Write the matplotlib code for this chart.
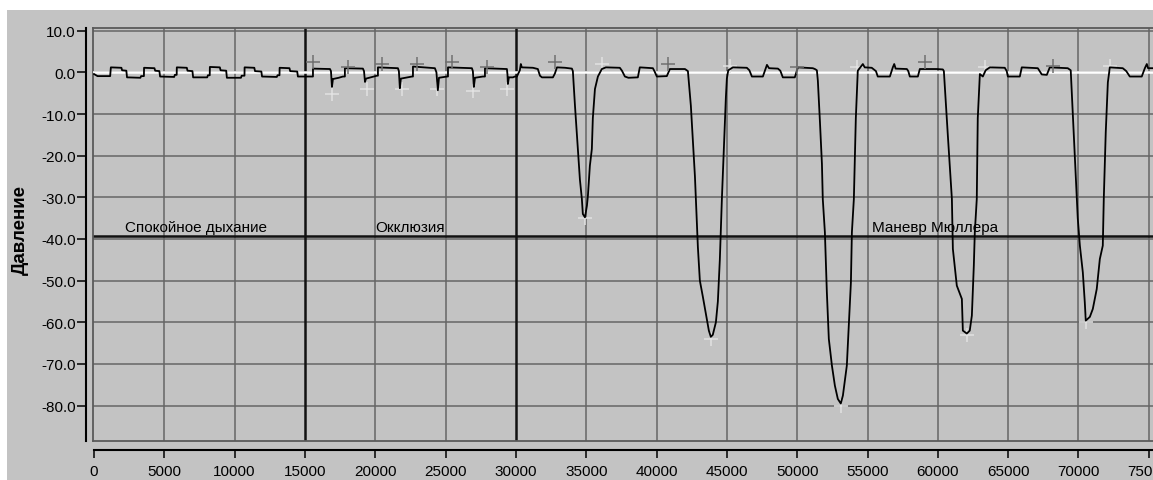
import numpy as np
import matplotlib
matplotlib.use("Agg")
import matplotlib.pyplot as plt
from matplotlib.patches import Rectangle

plt.rcParams['font.family'] = ['Liberation Sans', 'DejaVu Sans']
plt.rcParams['axes.unicode_minus'] = False

# ---------------- data ----------------
quiet_t = [0, 250, 1150, 1200, 1950, 2000, 2300, 2350, 3300, 3350, 3550, 3560, 4300, 4350,
           4650, 4700, 5700, 5750, 5880, 5890, 6600, 6650, 7000, 7050, 8050, 8100, 8230,
           8240, 8950, 9000, 9400, 9450, 10450, 10500, 10700, 10710, 11400, 11450, 11900,
           11950, 13000, 13050, 13190, 13200, 13900, 13950, 14450, 14500, 14950]
quiet_p = [-0.4, -0.9, -0.9, 1.2, 1.1, 0.5, 0.4, -1.2, -1.3, -0.9, -0.9, 1.1, 1.0, 0.4,
           0.3, -1.0, -1.1, -0.6, -0.6, 1.2, 1.1, 0.4, 0.3, -1.2, -1.2, -0.7, -0.7,
           1.3, 1.2, 0.5, 0.4, -1.3, -1.3, -0.8, -0.8, 1.2, 1.1, 0.3, 0.2,
           -1.0, -1.1, -0.7, -0.7, 1.1, 1.0, 0.3, 0.2, -1.0, -1.0]

occl_t = [15570, 15570, 16780, 16850, 16920, 16990, 17400, 17700, 17840, 17840, 19120,
          19200, 19270, 19340, 19800, 20120, 20190, 20190, 21610, 21680, 21750, 21820,
          22300, 22610, 22680, 22680, 23500, 24240, 24350, 24450, 24530, 25100, 25170,
          25170, 26870, 26940, 27010, 27090, 27650, 27800, 27800, 29360, 29400, 29430,
          29500, 29790, 29930]
occl_p = [-1.0, 0.9, 0.8, 0.3, -3.5, -1.6, -1.3, -1.0, -1.0, 1.0, 0.9,
          0.3, -2.3, -1.5, -1.1, -0.8, -0.8, 1.2, 1.0, 0.3, -3.8, -1.5,
          -1.2, -1.0, -1.0, 1.4, 1.2, 1.0, 0.0, -4.3, -1.3, -1.0, -1.0,
          1.2, 1.0, 0.3, -3.5, -1.3, -1.0, -1.0, 1.0, 0.8, -0.5, -2.8,
          -1.2, -1.2, -1.0]

mueller_t = [30070, 30280, 30350, 30420, 31210, 31560, 31710, 31850, 32630, 32770, 32920,
             33500, 33980, 34050, 34200, 34340, 34410, 34550, 34690, 34760, 34910, 35050,
             35120, 35260, 35400, 35470, 35620, 35830, 36110, 36400, 37390, 37540, 37750,
             38000, 38670, 38810, 39740, 39850, 40020, 40730, 40950, 42020, 42230, 42440,
             42730, 42940, 43080, 43300, 43510, 43720, 43860, 44000, 44220, 44360, 44500,
             44650, 44790, 44930, 45000, 45100, 45430, 46420, 46600, 46780, 47560, 47850,
             48000, 48630, 48800, 48980, 49830, 50050, 51110, 51260, 51400, 51470, 51620,
             51760, 51820, 51970, 52110, 52250, 52470, 52680, 52890, 53100, 53250, 53530,
             53670, 53820, 53890, 54030, 54170, 54310, 54670, 54800, 55300, 55600, 55730,
             56590, 56800, 56900, 57000, 57800, 57900, 58010, 58580, 58720, 59930, 60360,
             60430, 60710, 61000, 61070, 61350, 61710, 61780, 62060, 62270, 62420, 62560,
             62630, 62770, 62840, 62990, 63200, 63400, 63700, 64760, 64900, 64980, 65830,
             65970, 67110, 67390, 67750, 67960, 69240, 69450, 69740, 69950, 70100, 70310,
             70450, 70520, 70810, 71020, 71300, 71520, 71730, 71800, 71940, 72090, 72230,
             73150, 73400, 73650, 74500, 74720, 74860, 74950, 75300]
mueller_p = [-1.0, 0.5, 2.0, 1.2, 1.1, 0.8, -0.8, -1.2, -1.2, -0.3, 1.2,
             1.1, 0.9, 0.3, -8.0, -15.0, -18.4, -25.7, -30.4, -34.0, -34.8, -32.0,
             -29.6, -22.4, -18.4, -11.0, -4.0, -1.0, 0.8, 1.2, 1.1, 0.4, -1.0,
             -1.3, -1.2, 1.2, 1.0, 0.3, -1.0, -0.9, 0.8, 0.8, 0.3, -8.0,
             -25.0, -42.0, -50.0, -54.0, -58.0, -62.0, -63.5, -63.0, -60.0, -55.0, -45.0,
             -30.0, -18.0, -6.0, -1.5, 0.5, 1.2, 1.1, 0.5, -1.0, -1.0, 1.8,
             1.0, 0.9, 0.4, -1.2, -1.2, 1.2, 1.0, 0.8, 0.5, -2.0, -12.0,
             -22.0, -30.4, -38.4, -52.8, -64.0, -70.4, -75.2, -78.4, -79.5, -77.6, -70.4,
             -60.8, -50.4, -38.4, -30.4, -11.0, 0.4, 2.0, 1.2, 1.1, 0.3, -1.0,
             -1.0, 1.2, 2.0, 0.9, 0.8, 0.3, -1.0, -1.0, 0.8, 0.8, 0.7,
             0.3, -15.0, -30.4, -42.4, -51.2, -54.4, -62.0, -62.7, -62.0, -58.4, -46.4,
             -38.4, -30.4, -11.0, -0.4, -1.0, 0.5, 1.2, 1.1, 0.3, -1.0, -1.0,
             1.2, 1.0, -0.5, -0.6, 1.2, 1.0, 0.5, -20.0, -35.0, -41.6, -48.0,
             -55.2, -59.6, -58.7, -56.8, -52.0, -44.8, -41.6, -30.4, -14.4, -2.4, 1.2,
             1.0, 0.3, -1.0, -1.0, 1.0, 2.0, 1.0, 1.0]

dark_mark_t = [15570, 18060, 20470, 22960, 25450, 27940, 32770, 40810, 49980, 59080, 68180]
dark_mark_p = [2.4, 1.2, 2.0, 2.0, 2.4, 1.2, 2.4, 2.0, 1.2, 2.4, 1.5]
light_mark_t = [16920, 19410, 21900, 24380, 26940, 29360, 36110, 45210, 54240, 63340, 72230,
                34910, 43860, 53100, 62060, 70520]
light_mark_p = [-5.2, -4.0, -4.0, -4.0, -4.4, -4.0, 2.0, 1.5, 1.2, 1.2, 1.5,
                -35.0, -64.0, -80.0, -63.0, -60.0]

x_ticks = [0, 5000, 10000, 15000, 20000, 25000, 30000, 35000, 40000, 45000, 50000,
           55000, 60000, 65000, 70000, 75000]
y_ticks = [10, 0, -10, -20, -30, -40, -50, -60, -70, -80]
y_tick_labels = ['10.0', '0.0', '-10.0', '-20.0', '-30.0', '-40.0', '-50.0', '-60.0',
                 '-70.0', '-80.0']
phase_bounds = [15000, 30000]
marker_level = -39.4
phase_labels = ['Спокойное дыхание', 'Окклюзия', 'Маневр Мюллера']
phase_label_t = [2200, 19980, 55310]
y_label = 'Давление'

# ---------------- figure ----------------
W, H = 1153, 481
fig = plt.figure(figsize=(W / 100, H / 100), dpi=100, facecolor='white')
BG = '#c3c3c3'
fig.patches.append(Rectangle((7 / W, 0), 1 - 7 / W, 1 - 11 / H, transform=fig.transFigure,
                             facecolor=BG, edgecolor='none', zorder=-10))

top_px, bot_px, left_px = 29, 442, 93
XLIM = (-70, 75300)
YLIM = (-88.5, 10.65)

ax = fig.add_axes([left_px / W, 1 - bot_px / H, (W - left_px) / W, (bot_px - top_px) / H])
ax.set_facecolor(BG)
ax.set_xlim(*XLIM)
ax.set_ylim(*YLIM)
ax.set_xticks([])
ax.set_yticks([])
for s in ['top', 'bottom', 'left']:
    ax.spines[s].set_color('#5a5a5a')
    ax.spines[s].set_linewidth(1.3)
ax.spines['right'].set_visible(False)

grid_c = '#666666'
for xv in x_ticks[1:]:
    if xv in phase_bounds:
        ax.axvline(xv, color='#111111', lw=1.8, zorder=2)
    else:
        ax.axvline(xv, color=grid_c, lw=1.1, zorder=1)
for yv in y_ticks:
    ax.axhline(yv, color=grid_c, lw=1.1, zorder=1)
ax.axhline(marker_level, color='#111111', lw=1.8, zorder=2)
ax.axhline(0, color='white', lw=1.8, zorder=3)

t_all = quiet_t + occl_t + mueller_t
p_all = quiet_p + occl_p + mueller_p
ax.plot(t_all, p_all, color='black', lw=1.3, zorder=5)

ax.plot(dark_mark_t, dark_mark_p, linestyle='none', marker='+', ms=10, mew=1.1,
        color='#707070', zorder=6)
ax.plot(light_mark_t, light_mark_p, linestyle='none', marker='+', ms=10, mew=1.1,
        color='#e2e2e2', zorder=4)

for lab, tx in zip(phase_labels, phase_label_t):
    ax.text(tx, -38.0, lab, fontsize=11, color='black', va='baseline', ha='left', zorder=7)

# separate y axis
axy = fig.add_axes([86 / W, 1 - bot_px / H, 0.0005, (bot_px - top_px) / H])
axy.set_ylim(*YLIM)
axy.patch.set_visible(False)
for s in ['top', 'bottom', 'right']:
    axy.spines[s].set_visible(False)
axy.spines['left'].set_color('black')
axy.spines['left'].set_linewidth(1.5)
axy.set_xticks([])
axy.set_yticks(y_ticks)
axy.set_yticklabels(y_tick_labels)
axy.tick_params(axis='y', direction='out', length=6.5, width=1.1, pad=1, labelsize=11,
                colors='black')
fig.text(20 / W, 1 - 230 / H, y_label, rotation=90, fontsize=13.5, fontweight='bold',
         ha='center', va='center')

# separate x axis
axx = fig.add_axes([left_px / W, 1 - 451 / H, (W - left_px) / W, 0.0005])
axx.set_xlim(*XLIM)
axx.patch.set_visible(False)
for s in ['top', 'left', 'right']:
    axx.spines[s].set_visible(False)
axx.spines['bottom'].set_color('black')
axx.spines['bottom'].set_linewidth(1.5)
axx.spines['bottom'].set_bounds(0, XLIM[1])
axx.set_yticks([])
axx.set_xticks(x_ticks)
axx.set_xticklabels([str(v) for v in x_ticks])
axx.tick_params(axis='x', direction='out', length=6, width=1.1, pad=4, labelsize=11,
                colors='black')

fig.savefig('out.png', dpi=100, facecolor='white')
